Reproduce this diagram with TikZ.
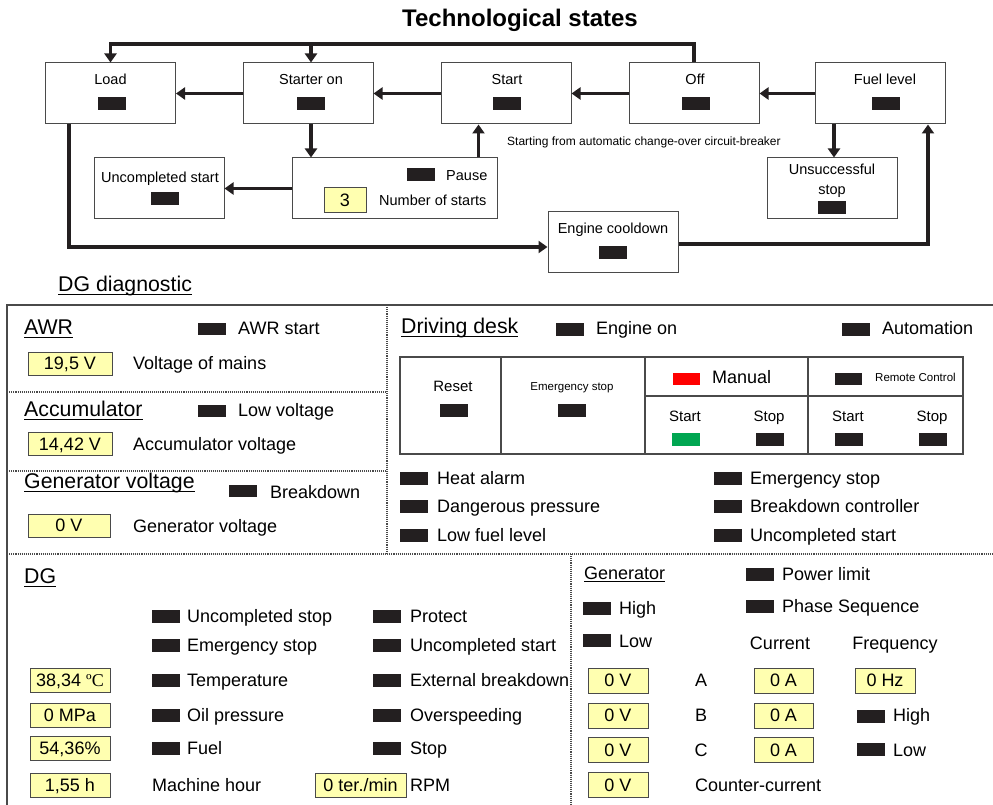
\documentclass[tikz,border=0pt]{standalone}
\usepackage{fontspec}
\setmainfont{Liberation Sans}
\newfontfamily\serifface{Liberation Serif}
\usetikzlibrary{arrows.meta}
\definecolor{indc}{HTML}{231F20}
\definecolor{yelc}{HTML}{FFFFB0}
\definecolor{edgec}{HTML}{4A4A4A}
\definecolor{redc}{HTML}{FF0000}
\definecolor{grnc}{HTML}{00A651}
\newcommand\myul[1]{\setbox0=\hbox{#1}\rlap{\rule[-0.16em]{\wd0}{0.055em}}#1}
\begin{document}
\begin{tikzpicture}[x=1pt,y=-1pt,
  stbox/.style={draw=edgec, line width=1pt, fill=white, minimum width=130pt, minimum height=61pt, inner sep=0},
  ind/.style={fill=indc, minimum width=28pt, minimum height=13pt, inner sep=0},
  val/.style={draw=edgec, line width=0.9pt, fill=yelc, minimum height=24pt, inner sep=0, text height=12.9pt, text depth=0pt, font=\fontsize{18}{20}\selectfont},
  wire/.style={line width=3.8pt, draw=indc},
  arr/.style={wire, -{Triangle[length=9pt,width=12pt]}},
  tt/.style={inner sep=0, text height=10.4pt, text depth=0pt, font=\fontsize{14.5}{16}\selectfont},
  sm/.style={inner sep=0, text height=8.3pt, text depth=0pt, font=\fontsize{11.5}{13}\selectfont},
  lb/.style={anchor=west, inner sep=0, text height=12.9pt, text depth=0pt, font=\fontsize{18}{20}\selectfont},
  lc/.style={inner sep=0, text height=12.9pt, text depth=0pt, font=\fontsize{18}{20}\selectfont},
  hd/.style={anchor=west, inner sep=0, text height=15.2pt, text depth=0pt, font=\fontsize{21.3}{24}\selectfont},
  frm/.style={draw=edgec, line width=1.2pt},
  dv/.style={draw=edgec, line width=1.1pt, densely dotted},
  tbl/.style={draw=edgec, line width=1.1pt}
]
\useasboundingbox (0,0) rectangle (993,805);

% ---------------- Technological states ----------------
\node[font=\bfseries\fontsize{24}{28}\selectfont, inner sep=0] (title) at (520,20) {Technological states};

\node[stbox] (load) at (110.5,93.5) {};
\node[tt] (loadT) at (110.5,79) {Load};
\node[ind] (loadI) at (111.5,103.5) {};

\node[stbox] (starter) at (308,93.5) {};
\node[tt] (starterT) at (311,79) {Starter on};
\node[ind] (starterI) at (311,103.5) {};

\node[stbox] (start) at (506,93.5) {};
\node[tt] (startT) at (507,79) {Start};
\node[ind] (startI) at (507,103.5) {};

\node[stbox] (off) at (694,93.5) {};
\node[tt] (offT) at (695,79) {Off};
\node[ind] (offI) at (695.5,103.5) {};

\node[stbox] (fuel) at (880.5,93.5) {};
\node[tt] (fuelT) at (885,79) {Fuel level};
\node[ind] (fuelI) at (886,103.5) {};

\node[stbox] (uncomp) at (159,188.5) {};
\node[tt] (uncompT) at (160,177) {Uncompleted start};
\node[ind] (uncompI) at (164.5,199) {};

\node[stbox, minimum width=205pt] (pause) at (394.5,188.5) {};
\node[ind] (pauseI) at (421,175) {};
\node[tt, anchor=west] (pauseT) at (446,175) {Pause};
\node[val, minimum width=42pt, minimum height=25pt] (nstart) at (345,200) {3};
\node[tt, anchor=west] (nstartT) at (379,200) {Number of starts};

\node[stbox] (cool) at (613,242) {};
\node[tt] (coolT) at (613,228) {Engine cooldown};
\node[ind] (coolI) at (613,252.5) {};

\node[stbox] (unsucc) at (832,188.5) {};
\node[tt] (unsuccT1) at (832,169) {Unsuccessful};
\node[tt] (unsuccT2) at (832,189.5) {stop};
\node[ind] (unsuccI) at (832,208) {};

\node[inner sep=0, anchor=west, text height=8.6pt, text depth=0pt, font=\fontsize{12}{14}\selectfont] (acb) at (507,141) {Starting from automatic change-over circuit-breaker};

\coordinate (tl) at (110.5,44);
\draw[arr] (fuel.west) -- (off.east);
\draw[arr] (off.west) -- (start.east);
\draw[arr] (start.west) -- (starter.east);
\draw[arr] (starter.west) -- (load.east);
\draw[arr] (off.north) |- (load.north |- tl) -- (load.north);
\draw[arr] ([xshift=3pt]starter.north |- tl) -- ([xshift=3pt]starter.north);
\draw[arr] ([xshift=3pt]starter.south) -- ([xshift=3pt]starter.south |- pause.north);
\draw[arr] ([xshift=-19pt]pause.north east) -- ([xshift=-19pt]pause.north east |- start.south);
\draw[arr] (pause.west) -- (uncomp.east);
\draw[arr] ([xshift=24pt]load.south west) |- ([yshift=-5pt]cool.west);
\draw[arr] ([yshift=-2pt]cool.east) -| ([xshift=-18pt]fuel.south east);
\draw[arr] ([xshift=19pt]fuel.south west) -- ([xshift=19pt]fuel.south west |- unsucc.north);

% ---------------- DG diagnostic ----------------
\node[hd] (diag) at (58,284) {\myul{DG diagnostic}};

\draw[frm] (993,305) -- (7,305) -- (7,805);
\draw[dv] (387,305) -- (387,554);
\draw[dv] (571,554) -- (571,805);
\draw[dv] (7,392) -- (387,392);
\draw[dv] (7,471) -- (387,471);
\draw[dv] (7,554) -- (993,554);

% AWR
\node[hd] (awr) at (24,327) {\myul{AWR}};
\node[ind, minimum height=12pt] (awrI) at (212,329) {};
\node[lb] (awrT) at (238,328) {AWR start};
\node[val, minimum width=84pt, minimum height=23pt] (awrV) at (70,363.5) {19,5 V};
\node[lb] (awrVT) at (133,363) {Voltage of mains};

% Accumulator
\node[hd] (acc) at (24,409) {\myul{Accumulator}};
\node[ind, minimum height=12pt] (accI) at (212,411) {};
\node[lb] (accT) at (238,410) {Low voltage};
\node[val, minimum width=84pt, minimum height=23pt] (accV) at (70,444) {14,42 V};
\node[lb] (accVT) at (133,444) {Accumulator voltage};

% Generator voltage
\node[hd] (gv) at (24,481) {\myul{Generator voltage}};
\node[ind, minimum height=12pt] (gvI) at (242.5,491) {};
\node[lb] (gvT) at (270,492) {Breakdown};
\node[val, minimum width=82pt, minimum height=23pt] (gvV) at (69,525.5) {0 V};
\node[lb] (gvVT) at (133,526) {Generator voltage};

% Driving desk
\node[hd] (dd) at (401,326) {\myul{Driving desk}};
\node[ind] (engI) at (569.5,329) {};
\node[lb] (engT) at (596,328) {Engine on};
\node[ind] (autI) at (855.5,329) {};
\node[lb] (autT) at (882,328) {Automation};

\draw[tbl] (400,357) rectangle (963,454);
\draw[tbl] (501,357) -- (501,454);
\draw[tbl] (645,357) -- (645,454);
\draw[tbl] (808,357) -- (808,454);
\draw[tbl] (645,396) -- (963,396);

\node[tt, font=\fontsize{15}{17}\selectfont, text height=10.7pt] (resetT) at (453,386) {Reset};
\node[ind] (resetI) at (454,410) {};
\node[sm] (estT) at (572,386) {Emergency stop};
\node[ind] (estI) at (572,410) {};
\node[ind, fill=redc, minimum width=27pt, minimum height=12pt] (manI) at (686,378.5) {};
\node[lb] (manT) at (712,377) {Manual};
\node[ind, minimum width=27pt, minimum height=12pt] (remI) at (848.5,378.5) {};
\node[sm, anchor=west] (remT) at (875,377) {Remote Control};
\node[tt, font=\fontsize{15}{17}\selectfont, text height=10.7pt] (s1T) at (685,416) {Start};
\node[tt, font=\fontsize{15}{17}\selectfont, text height=10.7pt] (p1T) at (769,416) {Stop};
\node[tt, font=\fontsize{15}{17}\selectfont, text height=10.7pt] (s2T) at (848,416) {Start};
\node[tt, font=\fontsize{15}{17}\selectfont, text height=10.7pt] (p2T) at (932,416) {Stop};
\node[ind, fill=grnc] (s1I) at (686,439) {};
\node[ind] (p1I) at (769.5,439) {};
\node[ind] (s2I) at (848.5,439) {};
\node[ind] (p2I) at (932.5,439) {};

\node[ind] (w1I) at (413.5,478) {};
\node[lb] (w1T) at (437,478) {Heat alarm};
\node[ind] (w2I) at (413.5,506) {};
\node[lb] (w2T) at (437,506) {Dangerous pressure};
\node[ind] (w3I) at (413.5,535) {};
\node[lb] (w3T) at (437,535) {Low fuel level};
\node[ind] (w4I) at (727.5,478) {};
\node[lb] (w4T) at (750,478) {Emergency stop};
\node[ind] (w5I) at (727.5,506) {};
\node[lb] (w5T) at (750,506) {Breakdown controller};
\node[ind] (w6I) at (727.5,535) {};
\node[lb] (w6T) at (750,535) {Uncompleted start};

% DG
\node[hd] (dg) at (24,576) {\myul{DG}};
\node[ind] (d1I) at (166,616) {};
\node[lb] (d1T) at (187,616) {Uncompleted stop};
\node[ind] (d2I) at (166,645) {};
\node[lb] (d2T) at (187,645) {Emergency stop};
\node[ind] (d3I) at (166,680) {};
\node[lb] (d3T) at (187,680) {Temperature};
\node[ind] (d4I) at (166,715) {};
\node[lb] (d4T) at (187,715) {Oil pressure};
\node[ind] (d5I) at (166,748) {};
\node[lb] (d5T) at (187,748) {Fuel};
\node[lb] (d6T) at (152,785) {Machine hour};

\node[ind] (e1I) at (386.5,616) {};
\node[lb] (e1T) at (410,616) {Protect};
\node[ind] (e2I) at (386.5,645) {};
\node[lb] (e2T) at (410,645) {Uncompleted start};
\node[ind] (e3I) at (386.5,680) {};
\node[lb] (e3T) at (410,680) {External breakdown};
\node[ind] (e4I) at (386.5,715) {};
\node[lb] (e4T) at (410,715) {Overspeeding};
\node[ind] (e5I) at (386.5,748) {};
\node[lb] (e5T) at (410,748) {Stop};
\node[val, minimum width=91pt] (rpmV) at (360.5,785) {0 ter./min};
\node[lb] (rpmT) at (410,785) {RPM};

\node[val, minimum width=80pt] (tV) at (70,680) {38,34 {\serifface ºC}};
\node[val, minimum width=80pt] (pV) at (70,715.5) {0 MPa};
\node[val, minimum width=80pt] (fV) at (70,748) {54,36\%};
\node[val, minimum width=80pt] (hV) at (70,785) {1,55 h};

% Generator
\node[lb] (gen) at (584,573) {\myul{Generator}};
\node[ind] (plI) at (759.5,574) {};
\node[lb] (plT) at (782,574) {Power limit};
\node[ind] (psI) at (759.5,606) {};
\node[lb] (psT) at (782,606) {Phase Sequence};
\node[ind] (ghI) at (596.5,608) {};
\node[lb] (ghT) at (619,608) {High};
\node[ind] (glI) at (596.5,640) {};
\node[lb] (glT) at (619,641) {Low};
\node[lc] (curT) at (780,643) {Current};
\node[lc] (frqT) at (895,643) {Frequency};

\node[val, minimum width=60pt, minimum height=25pt] (v1) at (618,680.5) {0 V};
\node[val, minimum width=60pt, minimum height=25pt] (v2) at (618,715.5) {0 V};
\node[val, minimum width=60pt, minimum height=25pt] (v3) at (618,750) {0 V};
\node[val, minimum width=60pt, minimum height=25pt] (v4) at (618,785) {0 V};
\node[lc] (pA) at (701,680) {A};
\node[lc] (pB) at (701,715) {B};
\node[lc] (pC) at (701,750) {C};
\node[val, minimum width=59pt, minimum height=25pt] (a1) at (783.5,680.5) {0 A};
\node[val, minimum width=59pt, minimum height=25pt] (a2) at (783.5,715.5) {0 A};
\node[val, minimum width=59pt, minimum height=25pt] (a3) at (783.5,750) {0 A};
\node[val, minimum width=60pt, minimum height=25pt] (hz) at (885,680.5) {0 Hz};
\node[ind] (fhI) at (870.5,716) {};
\node[lb] (fhT) at (893,715) {High};
\node[ind] (flI) at (870.5,749) {};
\node[lb] (flT) at (893,750) {Low};
\node[lb] (ccT) at (695,785) {Counter-current};
\end{tikzpicture}
\end{document}
